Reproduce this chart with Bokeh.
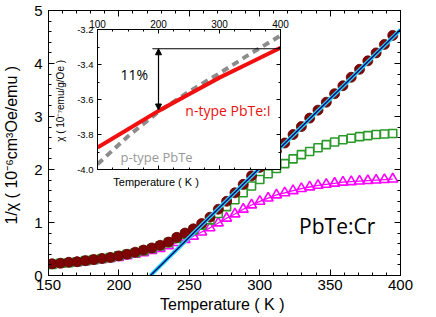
from bokeh.plotting import figure
from bokeh.models import (Range1d, LinearAxis, SingleIntervalTicker, Label, Arrow,
                          NormalHead, PrintfTickFormatter, CustomJSTickFormatter)
from bokeh.layouts import column
from bokeh.embed import file_html
from bokeh.resources import INLINE

# ---------------- data ----------------
T = [152.6, 158.5, 164.4, 170.3, 176.2, 182.1, 188.0, 193.9, 199.8, 205.7, 211.6,
     217.5, 223.4, 229.3, 235.2, 241.1, 247.0, 252.9, 258.8, 264.7, 270.6, 276.5,
     282.4, 288.3, 294.2, 300.1, 306.0, 311.9, 317.8, 323.7, 329.6, 335.5, 341.4,
     347.3, 353.2, 359.1, 365.0, 370.9, 376.8, 382.7, 388.6, 394.5]
inv_chi_red = [0.22, 0.23, 0.25, 0.26, 0.28, 0.30, 0.32, 0.34, 0.37, 0.40, 0.44,
               0.48, 0.52, 0.57, 0.63, 0.72, 0.80, 0.88, 0.98, 1.10, 1.25, 1.40,
               1.56, 1.72, 1.88, 2.04, 2.19, 2.35, 2.50, 2.66, 2.81, 2.97, 3.12,
               3.27, 3.43, 3.58, 3.74, 3.89, 4.05, 4.20, 4.36, 4.53]
inv_chi_green = [0.21, 0.23, 0.24, 0.26, 0.28, 0.30, 0.32, 0.34, 0.37, 0.40, 0.43,
                 0.47, 0.51, 0.56, 0.62, 0.70, 0.78, 0.86, 0.95, 1.05, 1.17, 1.30,
                 1.43, 1.56, 1.69, 1.81, 1.92, 2.02, 2.11, 2.20, 2.28, 2.34, 2.41,
                 2.47, 2.52, 2.56, 2.59, 2.62, 2.64, 2.66, 2.67, 2.68]
inv_chi_magenta = [0.20, 0.21, 0.23, 0.24, 0.26, 0.28, 0.30, 0.32, 0.34, 0.37, 0.40,
                   0.43, 0.47, 0.51, 0.56, 0.62, 0.68, 0.74, 0.82, 0.90, 0.99, 1.08,
                   1.16, 1.25, 1.33, 1.40, 1.46, 1.52, 1.56, 1.60, 1.64, 1.67, 1.70,
                   1.72, 1.74, 1.76, 1.77, 1.78, 1.79, 1.80, 1.81, 1.82]
fit_T = [222.4, 400.0]
fit_v = [0.0, 4.64]

inset_T = [100, 150, 200, 250, 300, 350, 400]
chi_n = [-3.875, -3.77, -3.665, -3.57, -3.475, -3.39, -3.305]
chi_p = [-3.97, -3.81, -3.67, -3.555, -3.45, -3.34, -3.235]
ref_T = [190, 400]
ref_chi = [-3.31, -3.31]

AX_FONT = "Liberation Sans"
TXT_FONT = "Open Sans"

def style_axis(ax, fs="15px", lfs="16px"):
    ax.major_tick_in = 6
    ax.major_tick_out = 0
    ax.minor_tick_in = 3
    ax.minor_tick_out = 0
    ax.axis_line_color = "black"
    ax.major_tick_line_color = "black"
    ax.minor_tick_line_color = "black"
    ax.major_label_text_font = AX_FONT
    ax.major_label_text_font_size = fs
    ax.major_label_text_color = "black"
    ax.axis_label_text_font = AX_FONT
    ax.axis_label_text_font_size = lfs
    ax.axis_label_text_font_style = "normal"
    ax.axis_label_text_color = "black"

def hide_labels(ax):
    ax.formatter = CustomJSTickFormatter(code="return ''")
    ax.major_label_text_font_size = "1px"
    ax.major_label_standoff = 0

# ---------------- main figure ----------------
p = figure(width=436, height=316, output_backend="svg", toolbar_location=None,
           x_range=Range1d(150, 400), y_range=Range1d(0, 5),
           min_border_left=48, min_border_right=36, min_border_top=10, min_border_bottom=41)
p.xgrid.visible = False
p.ygrid.visible = False
p.outline_line_color = "black"
p.background_fill_color = "white"

p.line(T, inv_chi_magenta, color="#FF00FF", line_width=1.3)
p.scatter(T, inv_chi_magenta, marker="triangle", size=10, fill_color=None,
          line_color="#FF00FF", line_width=1.6)
p.line(T, inv_chi_green, color="#2A9A2A", line_width=1.3)
p.scatter(T, inv_chi_green, marker="square", size=8, fill_color="white",
          line_color="#2A9A2A", line_width=1.6)
p.scatter(T, inv_chi_red, marker="circle", size=10, fill_color="#7E0505",
          line_color="#6A0000", line_width=0.8)
p.line(fit_T, fit_v, color="#22D4F4", line_width=4)
p.line(fit_T, fit_v, color="#000070", line_width=1.4)

p.xaxis.ticker = SingleIntervalTicker(interval=50, num_minor_ticks=5)
p.yaxis.ticker = SingleIntervalTicker(interval=1, num_minor_ticks=5)
p.xaxis.axis_label = "Temperature  ( K )"
p.yaxis.axis_label = "1/\u03c7  ( 10\u207b\u2076cm\u00b3Oe/emu )"
for ax in p.xaxis + p.yaxis:
    style_axis(ax)
p.xaxis.major_label_standoff = 4
p.xaxis.axis_label_standoff = 3
p.yaxis.major_label_standoff = 6
p.yaxis.axis_label_standoff = 11

top_ax = LinearAxis(ticker=SingleIntervalTicker(interval=50, num_minor_ticks=5))
right_ax = LinearAxis(ticker=SingleIntervalTicker(interval=1, num_minor_ticks=5))
for ax in (top_ax, right_ax):
    style_axis(ax)
    hide_labels(ax)
p.add_layout(top_ax, "above")
p.add_layout(right_ax, "right")

p.add_layout(Label(x=328, y=0.94, text="PbTe:Cr", text_font=TXT_FONT,
                   text_font_size="21px", text_color="black", text_baseline="middle",
                   text_align="left"))
# title of the inset's x axis (shows through the inset's transparent border)
p.add_layout(Label(x=196, y=1.77, text="Temperature ( K )", text_font=AX_FONT,
                   text_font_size="11px", text_color="black", text_baseline="middle",
                   text_align="left"))

# ---------------- inset figure ----------------
q = figure(width=267, height=178, output_backend="svg", toolbar_location=None,
           x_range=Range1d(100, 400), y_range=Range1d(-4.0, -3.2),
           x_axis_location=None, y_axis_location=None,
           min_border_left=48, min_border_right=6, min_border_top=17, min_border_bottom=21)
q.xgrid.visible = False
q.ygrid.visible = False
q.outline_line_color = "black"
q.background_fill_color = "white"
q.border_fill_alpha = 0

q.line(inset_T, chi_p, color="#8C8C8C", line_width=4, line_dash="7 5")
q.line(inset_T, chi_n, color="#F01010", line_width=4)
q.line(ref_T, ref_chi, color="black", line_width=1.2)
q.add_layout(Arrow(x_start=200, y_start=-3.31, x_end=200, y_end=-3.66,
                   line_width=1.2, line_color="black",
                   start=NormalHead(size=6, fill_color="black", line_color="black"),
                   end=NormalHead(size=6, fill_color="black", line_color="black")))

qx_top = LinearAxis(ticker=SingleIntervalTicker(interval=100, num_minor_ticks=4))
qx_bot = LinearAxis(ticker=SingleIntervalTicker(interval=100, num_minor_ticks=4))
qy_left = LinearAxis(ticker=SingleIntervalTicker(interval=0.2, num_minor_ticks=2),
                     formatter=PrintfTickFormatter(format="%.1f"))
qy_right = LinearAxis(ticker=SingleIntervalTicker(interval=0.2, num_minor_ticks=2))
for ax in (qx_top, qx_bot, qy_left, qy_right):
    style_axis(ax, fs="10px", lfs="10px")
    ax.major_tick_in = 4
    ax.minor_tick_in = 2
qx_top.major_label_standoff = 2
qy_left.major_label_standoff = 4
qy_left.major_label_text_font_size = "9.5px"
qy_left.axis_label = "\u03c7  ( 10\u207b\u2077emu/g/Oe )"
qy_left.axis_label_standoff = 8
hide_labels(qx_bot)
hide_labels(qy_right)
q.add_layout(qx_top, "above")
q.add_layout(qx_bot, "below")
q.add_layout(qy_left, "left")
q.add_layout(qy_right, "right")

q.add_layout(Label(x=137.7, y=-3.457, text="11%", text_font=TXT_FONT,
                   text_font_size="14px", text_color="black", text_baseline="middle"))
q.add_layout(Label(x=244, y=-3.663, text="n-type PbTe:I", text_font=TXT_FONT,
                   text_font_size="14px", text_color="#E81010", text_baseline="middle"))
q.add_layout(Label(x=137.7, y=-3.931, text="p-type PbTe", text_font=TXT_FONT,
                   text_font_size="13px", text_color="#999999", text_baseline="middle"))

q.styles = {"position": "absolute", "left": "49px", "top": "12px", "z-index": "10"}

layout = column(p, q)
open("out.html", "w").write(file_html(layout, INLINE))
